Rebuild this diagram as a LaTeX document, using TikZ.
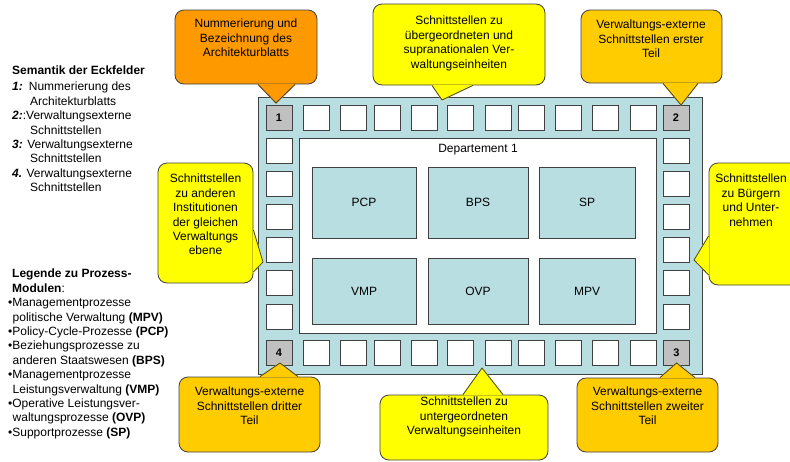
\documentclass[tikz,border=0pt]{standalone}
\usepackage{fontspec}
\setmainfont{Liberation Sans}
\definecolor{frameblue}{HTML}{B9DEE2}
\definecolor{bubOrange}{HTML}{FF9900}
\definecolor{bubGold}{HTML}{FFCC00}
\definecolor{bubYellow}{HTML}{FFFF00}
\definecolor{cornergray}{HTML}{C0C0C0}
% pointer of a speech bubble: colour, first base point, tip, second base point
\newcommand\bubtip[4]{%
  \draw[#1, fill=#1, line width=1.1pt, line join=round] #2 -- #3 -- #4 -- cycle;
  \draw[outl] #2 -- #3 -- #4;}
\begin{document}
\begin{tikzpicture}[x=1pt,y=-1pt,
    every node/.style={font=\fontsize{12}{14.4}\selectfont},
    outl/.style={draw=black!75, line width=0.8pt},
    iface/.style={outl, fill=white, minimum width=26pt, minimum height=25pt, inner sep=0pt, outer sep=0pt},
    corner/.style={iface, fill=cornergray, font=\fontsize{11}{13}\selectfont\bfseries},
    proc/.style={outl, fill=frameblue, inner sep=0pt},
    bubble/.style={outl, fill=#1, rounded corners=9pt, inner sep=0pt},
    bubtext/.style={anchor=north, align=center, inner sep=0pt}]
  \clip (0,0) rectangle (790,461);

  % architecture sheet
  \node[outl, fill=frameblue, minimum width=444pt, minimum height=277pt] (frame) at (480,235.5) {};
  \node[outl, fill=white, minimum width=357pt, minimum height=195pt] (dept) at (477.5,235.5) {};
  \node[inner sep=0pt] (deptLabel) at (478,150) {Departement 1};

  \node[corner] (c1) at (279,117.5) {1};
  \node[corner] (c2) at (676,117.5) {2};
  \node[corner] (c3) at (676.5,353) {3};
  \node[corner] (c4) at (279,353) {4};
  \foreach \x [count=\i] in {316,353.5,387,424,460.5,498.5,531.5,568.5,605.5,643} {
    \node[iface] (top\i) at (\x,117.5) {};
    \node[iface] (bot\i) at (\x,353) {};
  }
  \foreach \y [count=\i] in {150.5,184,216.5,250,283,316.5} {
    \node[iface] (left\i) at (279,\y) {};
    \node[iface] (right\i) at (676,\y) {};
  }

  \node[proc, minimum width=104pt, minimum height=71pt] (pcp) at (364,202.5) {PCP};
  \node[proc, minimum width=100pt, minimum height=71pt] (bps) at (478,202.5) {BPS};
  \node[proc, minimum width=96pt, minimum height=71pt] (sp) at (587,202.5) {SP};
  \node[proc, minimum width=104pt, minimum height=66pt] (vmp) at (364,291) {VMP};
  \node[proc, minimum width=100pt, minimum height=66pt] (ovp) at (478,291) {OVP};
  \node[proc, minimum width=96pt, minimum height=66pt] (mpv) at (587,291) {MPV};

  % texts on the left
  \node[anchor=north west, align=left, inner sep=0pt] (semantik) at (12,66) {%
    \textbf{Semantik der Eckfelder}\\[1.6pt]
    \textbf{\textit{1:}}\hspace{6pt}Nummerierung des\\
    \hspace*{18pt}Architekturblatts\\
    \textbf{\textit{2:}}:Verwaltungsexterne\\
    \hspace*{18pt}Schnittstellen\\
    \textbf{\textit{3:}} Verwaltungsexterne\\
    \hspace*{18pt}Schnittstellen\\
    \textbf{\textit{4.}} Verwaltungsexterne\\
    \hspace*{18pt}Schnittstellen};
  \node[anchor=north west, align=left, inner sep=0pt] (legende) at (8,269) {%
    \hspace*{4pt}\textbf{Legende zu Prozess-}\\
    \hspace*{4pt}\textbf{Modulen}:\\
    •Managementprozesse\\
    \hspace*{4.5pt}politische Verwaltung \textbf{(MPV)}\\
    •Policy-Cycle-Prozesse \textbf{(PCP)}\\
    •Beziehungsprozesse zu\\
    \hspace*{4.5pt}anderen Staatswesen \textbf{(BPS)}\\
    •Managementprozesse\\
    \hspace*{4.5pt}Leistungsverwaltung \textbf{(VMP)}\\
    •Operative Leistungsver-\\
    \hspace*{4.5pt}waltungsprozesse \textbf{(OVP)}\\
    •Supportprozesse \textbf{(SP)}};

  % speech bubbles
  \coordinate (tipUp) at (442,100);
  \coordinate (tipLow) at (482,368);
  \coordinate (tipLeft) at (263,262);
  \coordinate (tipRight) at (694,260);

  \node[bubble=bubOrange, minimum width=142pt, minimum height=74pt] (nrBub) at (246,47) {};
  \bubtip{bubOrange}{([xshift=12pt]nrBub.south)}{([xshift=-3pt,yshift=2pt]c1.north)}{([xshift=49pt]nrBub.south)}
  \node[bubtext] at (246,19) {Nummerierung und\\Bezeichnung des\\Architekturblatts};

  \node[bubble=bubYellow, minimum width=172pt, minimum height=81pt] (upBub) at (459,44.5) {};
  \bubtip{bubYellow}{([xshift=-27pt]upBub.south)}{(tipUp)}{([xshift=14pt]upBub.south)}
  \node[bubtext] at (459,16) {Schnittstellen zu\\übergeordneten und\\supranationalen Ver-\\waltungseinheiten};

  \node[bubble=bubGold, minimum width=141pt, minimum height=73pt] (ext1Bub) at (651.5,46.5) {};
  \bubtip{bubGold}{([xshift=11.5pt]ext1Bub.south)}{([xshift=5pt]c2.north)}{([xshift=46.5pt]ext1Bub.south)}
  \node[bubtext] at (651,20) {Verwaltungs-externe\\Schnittstellen erster\\Teil};

  \node[bubble=bubYellow, minimum width=95pt, minimum height=120pt] (instBub) at (205.5,223) {};
  \bubtip{bubYellow}{([yshift=-7pt]instBub.east)}{(tipLeft)}{([yshift=-49pt]instBub.east)}
  \node[bubtext] at (205.5,174) {Schnittstellen\\zu anderen\\Institutionen\\der gleichen\\Verwaltungs\\ebene};

  \node[bubble=bubYellow, minimum width=91pt, minimum height=122pt] (buergerBub) at (754.5,224) {};
  \bubtip{bubYellow}{([yshift=-12pt]buergerBub.west)}{(tipRight)}{([yshift=-51pt]buergerBub.west)}
  \node[bubtext] at (751,174) {Schnittstellen\\zu Bürgern\\und Unter-\\nehmen};

  \node[bubble=bubGold, minimum width=141pt, minimum height=75pt] (ext3Bub) at (249.5,414.5) {};
  \bubtip{bubGold}{([xshift=10.5pt]ext3Bub.north)}{([xshift=1pt,yshift=2.5pt]c4.south)}{([xshift=48.5pt]ext3Bub.north)}
  \node[bubtext] at (249.5,387) {Verwaltungs-externe\\Schnittstellen dritter\\Teil};

  \node[bubble=bubYellow, minimum width=168pt, minimum height=65pt] (lowBub) at (464,427.5) {};
  \bubtip{bubYellow}{([xshift=-1pt]lowBub.north)}{(tipLow)}{([xshift=39pt]lowBub.north)}
  \node[bubtext] at (464,397) {Schnittstellen zu\\untergeordneten\\Verwaltungseinheiten};

  \node[bubble=bubGold, minimum width=141pt, minimum height=74pt] (ext2Bub) at (647.5,415) {};
  \bubtip{bubGold}{([xshift=12.5pt]ext2Bub.north)}{([yshift=2.5pt]c3.south)}{([xshift=47.5pt]ext2Bub.north)}
  \node[bubtext] at (647.5,387) {Verwaltungs-externe\\Schnittstellen zweiter\\Teil};
\end{tikzpicture}
\end{document}
